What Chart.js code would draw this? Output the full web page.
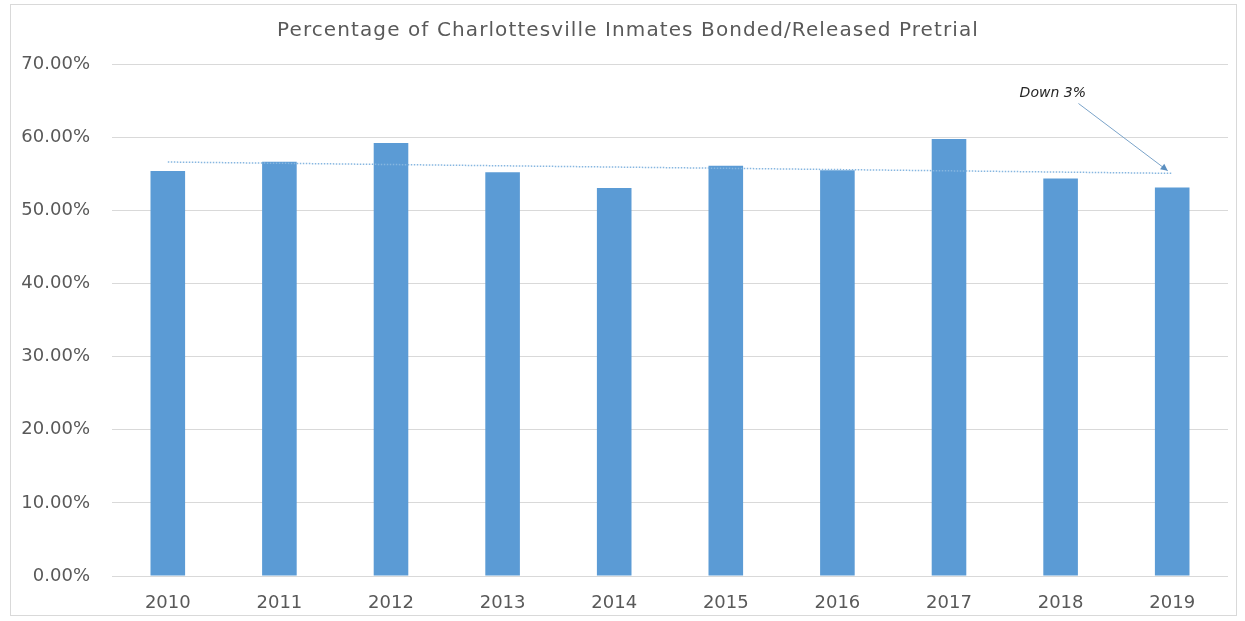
<!DOCTYPE html>
<html>
<head>
<meta charset="utf-8">
<title>Percentage of Charlottesville Inmates Bonded/Released Pretrial</title>
<script src="https://cdn.jsdelivr.net/npm/chart.js@4.4.1/dist/chart.umd.min.js"></script>
<style>
  html, body { margin: 0; padding: 0; background: #ffffff; }
  #wrap { position: relative; width: 1245px; height: 621px; }
  #frame { position: absolute; left: 10px; top: 4px; width: 1227px; height: 612px;
           border: 1px solid #d9d9d9; pointer-events: none; box-sizing: border-box; }
</style>
</head>
<body>
<div id="wrap">
  <canvas id="c" width="1245" height="621"></canvas>
  <div id="frame"></div>
</div>
<script>
// Share of inmates bonded or released before trial, by year (percent)
const years = ['2010', '2011', '2012', '2013', '2014', '2015', '2016', '2017', '2018', '2019'];
const releasedPct = [55.37, 56.65, 59.2, 55.19, 53.05, 56.1, 55.46, 59.74, 54.33, 53.1];
// Linear trend line: values at the first and the last year
const trendEnds = [56.6, 55.05];
// Value axis ticks
const yTicks = [0, 10, 20, 30, 40, 50, 60, 70];
const chartTitle = 'Percentage of Charlottesville Inmates Bonded/Released Pretrial';
const noteText = 'Down 3%';

const FONT = "'DejaVu Sans', sans-serif";
const TEXT = '#595959';
const BAR = '#5b9bd5';

const lastIdx = years.length - 1;
const trendData = years.map((_, i) => i === 0 ? trendEnds[0] : (i === lastIdx ? trendEnds[1] : null));

// Callout placement, in axis units (category index, percent)
const callout = {
  text: { x: 7.93, y: 65.95 },
  from: { x: 8.16, y: 64.6 },
  to:   { x: 8.96, y: 55.4 }
};

// Chart heading, drawn with a little extra tracking
const headingPlugin = {
  id: 'heading',
  afterDraw(chart) {
    const { ctx } = chart;
    ctx.save();
    ctx.font = "20px " + FONT;
    ctx.fillStyle = TEXT;
    ctx.textAlign = 'center';
    ctx.textBaseline = 'alphabetic';
    if ('letterSpacing' in ctx) ctx.letterSpacing = '1.1px';
    ctx.fillText(chartTitle, 628, 36);
    ctx.restore();
  }
};

const calloutPlugin = {
  id: 'callout',
  afterDatasetsDraw(chart) {
    const { ctx, scales: { x, y } } = chart;
    const px = p => ({ x: x.getPixelForValue(p.x), y: y.getPixelForValue(p.y) });
    const t = px(callout.text), a = px(callout.from), b = px(callout.to);
    ctx.save();
    ctx.font = "oblique 14px " + FONT;
    ctx.fillStyle = '#262626';
    ctx.textAlign = 'center';
    ctx.textBaseline = 'middle';
    ctx.fillText(noteText, t.x, t.y);
    // arrow shaft
    ctx.strokeStyle = '#7aa3c9';
    ctx.lineWidth = 1;
    ctx.beginPath();
    ctx.moveTo(a.x, a.y);
    ctx.lineTo(b.x, b.y);
    ctx.stroke();
    // arrow head
    const ang = Math.atan2(b.y - a.y, b.x - a.x);
    const L = 7, W = 3.5;
    ctx.fillStyle = '#5b8fc0';
    ctx.beginPath();
    ctx.moveTo(b.x, b.y);
    ctx.lineTo(b.x - L * Math.cos(ang) + W * Math.sin(ang), b.y - L * Math.sin(ang) - W * Math.cos(ang));
    ctx.lineTo(b.x - L * Math.cos(ang) - W * Math.sin(ang), b.y - L * Math.sin(ang) + W * Math.cos(ang));
    ctx.closePath();
    ctx.fill();
    ctx.restore();
  }
};

new Chart(document.getElementById('c'), {
  data: {
    labels: years,
    datasets: [
      {
        type: 'line',
        label: 'Linear trend',
        data: trendData,
        spanGaps: true,
        borderColor: '#86b6e0',
        borderWidth: 1.5,
        borderDash: [1.5, 1.5],
        pointRadius: 0,
        fill: false,
        order: 0
      },
      {
        type: 'bar',
        label: 'Bonded/Released Pretrial',
        data: releasedPct,
        backgroundColor: BAR,
        borderWidth: 0,
        barPercentage: 0.31,
        categoryPercentage: 1.0,
        order: 1
      }
    ]
  },
  options: {
    responsive: false,
    animation: false,
    devicePixelRatio: 1,
    layout: { padding: { left: 0, right: 17, top: 64, bottom: 0 } },
    plugins: {
      legend: { display: false },
      tooltip: { enabled: false },
      title: { display: false }
    },
    scales: {
      x: {
        grid: { display: false },
        border: { display: false },
        ticks: { color: TEXT, font: { family: FONT, size: 18 }, padding: 9 },
        afterFit(s) { s.height = 45; }
      },
      y: {
        min: 0,
        max: 70,
        afterBuildTicks(s) { s.ticks = yTicks.map(v => ({ value: v })); },
        grid: { color: '#d9d9d9', lineWidth: 1, drawTicks: false },
        border: { display: false },
        ticks: {
          color: TEXT,
          font: { family: FONT, size: 18 },
          padding: 22,
          callback: v => v.toFixed(2) + '%'
        },
        afterFit(s) { s.width = 112; }
      }
    }
  },
  plugins: [calloutPlugin, headingPlugin]
});
</script>
</body>
</html>
